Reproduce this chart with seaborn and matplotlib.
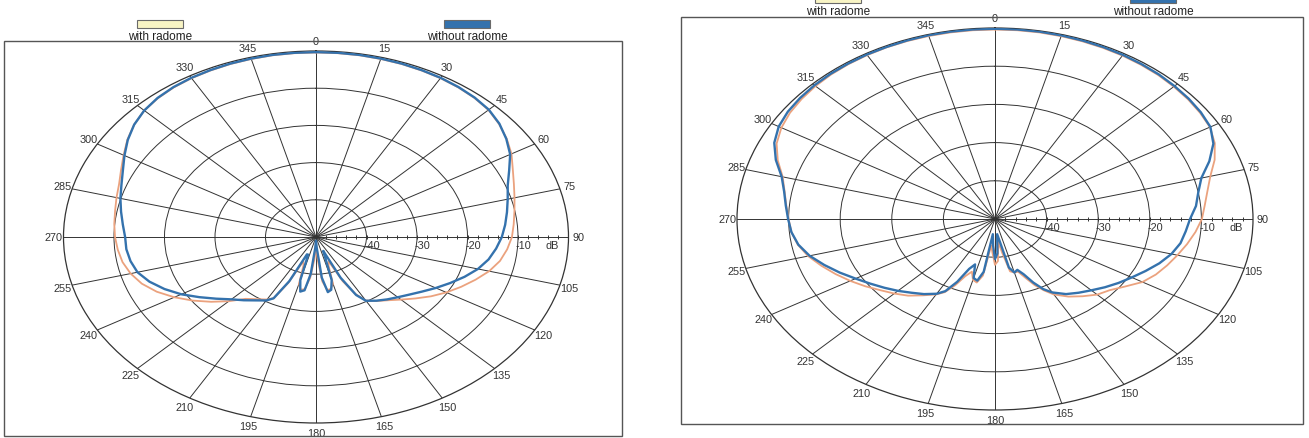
import numpy as np
import pandas as pd
import matplotlib
matplotlib.use("Agg")
import matplotlib.pyplot as plt
from matplotlib.patches import Rectangle
import seaborn as sns

# ---------------- data (angle in degrees, level in dB) ----------------
angles = list(range(0, 151, 5)) + list(range(153, 208, 3)) + list(range(210, 356, 5))

left_without = [-0.3, -0.3, -0.3, -0.35, -0.4, -0.5, -0.6, -0.8, -1.1, -1.6, -2.6, -4.0, -5.6, -7.8, -9.6,
                -10.7, -11.6, -12.4, -13.2, -14.2, -15.3, -16.8, -18.7, -20.7, -22.6, -24.4, -25.9, -27.1,
                -28.1, -29.1, -30.2,
                -32.5, -38, -46, -44, -38, -35.5, -35, -39, -47, -49, -47, -40, -35.5, -35, -38, -45, -45, -37, -31.5,
                -30.3, -29.2, -27.8, -26.3, -24.2, -21.8, -19.2, -16.9, -14.9, -13.4, -12.7, -12.3, -12.2, -11.6,
                -10.8, -9.9, -9.0, -7.8, -6.2, -4.5, -3.0, -1.9, -1.2, -0.8, -0.6, -0.5, -0.4, -0.35, -0.3, -0.3]

left_with = [-0.4, -0.4, -0.4, -0.45, -0.5, -0.6, -0.7, -0.9, -1.2, -1.7, -2.7, -3.9, -5.3, -7.0, -8.3,
             -9.3, -10.1, -10.7, -11.2, -12.0, -13.0, -14.5, -16.4, -18.3, -20.2, -22.2, -24.3, -26.2,
             -27.8, -29.0, -30.3,
             -32.8, -37, -43, -42, -37, -35.8, -35.5, -38, -44, -47, -44, -39, -35.8, -35.5, -37, -42, -43, -36.5, -31.5,
             -30.6, -29.6, -28.3, -25.6, -22.9, -20.2, -17.6, -15.2, -13.3, -12.0, -11.1, -10.6, -10.2, -9.9,
             -9.6, -9.1, -8.5, -7.4, -6.0, -4.4, -3.0, -1.9, -1.3, -0.9, -0.7, -0.6, -0.5, -0.45, -0.4, -0.4]

right_without = [-0.2, -0.2, -0.2, -0.25, -0.3, -0.35, -0.4, -0.5, -0.6, -0.8, -1.0, -1.3, -1.8, -3.3, -5.8,
                 -8.6, -10.0, -10.9, -12.2, -12.9, -13.5, -14.6, -16.1, -17.8, -19.4, -20.8, -22.2, -23.6,
                 -24.8, -26.0, -27.8,
                 -29.4, -31.8, -34.5, -36, -35.5, -37, -44, -46, -41, -39.5, -43, -46, -36, -33.5, -34, -37.5, -36, -32, -28.8,
                 -27.4, -26.0, -24.8, -23.4, -22.0, -20.5, -18.8, -16.8, -14.8, -12.8, -11.3, -10.4, -9.9, -9.3,
                 -8.5, -7.2, -4.8, -2.8, -1.6, -1.0, -0.7, -0.5, -0.4, -0.35, -0.3, -0.3, -0.25, -0.2, -0.2, -0.2]

right_with = [-0.4, -0.4, -0.4, -0.45, -0.5, -0.55, -0.6, -0.7, -0.8, -1.0, -1.2, -1.5, -1.9, -3.0, -4.7,
              -6.8, -8.2, -9.2, -9.9, -11.0, -12.2, -13.4, -14.5, -15.6, -17.0, -19.2, -21.0, -22.0,
              -23.6, -25.2, -27.2,
              -29.0, -31.0, -33.5, -35.5, -35.5, -36, -41, -44, -39, -38, -41, -43, -35, -33, -33.5, -35.5, -34, -31, -28.5,
              -27.2, -25.6, -23.8, -22.4, -21.0, -19.3, -17.6, -15.9, -14.2, -12.5, -11.2, -10.4, -10.0, -9.4,
              -8.6, -7.4, -5.2, -3.3, -2.2, -1.5, -1.1, -0.8, -0.6, -0.5, -0.45, -0.4, -0.4, -0.4, -0.4, -0.4]

theta_labels = [str(a) for a in range(0, 360, 15)]
ring_levels = [-40, -30, -20, -10]
legend_names = ["with radome", "without radome"]

C_WITH = "#eba27e"
C_WITHOUT = "#3472ad"
C_SWATCH_WITH = "#f8f4c4"
GRID = "#333333"

# ---------------- style ----------------
sns.set_theme(style="white")
plt.rcParams["font.family"] = ["Liberation Sans", "DejaVu Sans"]

W, H = 1309, 439
fig = plt.figure(figsize=(W / 100, H / 100), dpi=100)
fig.patch.set_facecolor("white")


def fx(px):
    return px / W


def fy(py):
    return 1 - py / H


def frame(x0, y0, x1, y1):
    fig.patches.append(Rectangle((fx(x0), fy(y1)), fx(x1) - fx(x0), fy(y0) - fy(y1),
                                 transform=fig.transFigure, fill=False, ec="#555555", lw=1.0))


def legend_item(cx, sy, ty, text, fc):
    w, h = 46, 8
    fig.patches.append(Rectangle((fx(cx - w / 2), fy(sy + h / 2)), fx(w), h / H,
                                 transform=fig.transFigure, fc=fc, ec="#6a6a6a", lw=0.8))
    fig.text(fx(cx), fy(ty), text, ha="center", va="center", fontsize=8.5, color="#222222")


def polar_panel(rect, with_vals, without_vals):
    ax = fig.add_axes(rect, projection="polar")
    ax.set_aspect("auto")
    ax.set_facecolor("white")
    ax.set_theta_zero_location("N")
    ax.set_theta_direction(-1)

    th = np.deg2rad(np.append(angles, 360))
    df_with = pd.DataFrame({"theta": th, "dB": np.append(with_vals, with_vals[0])})
    df_without = pd.DataFrame({"theta": th, "dB": np.append(without_vals, without_vals[0])})
    sns.lineplot(data=df_with, x="theta", y="dB", ax=ax, sort=False, color=C_WITH, lw=1.3, zorder=3)
    sns.lineplot(data=df_without, x="theta", y="dB", ax=ax, sort=False, color=C_WITHOUT, lw=1.7, zorder=4)
    ax.set_xlabel("")
    ax.set_ylabel("")

    ax.set_ylim(-50, 0)
    ax.set_rticks(ring_levels)
    ax.set_yticklabels([])
    ax.set_thetagrids(np.arange(0, 360, 15), labels=theta_labels)
    ax.set_xticks(np.deg2rad(np.arange(0, 360, 5)), minor=True)
    ax.tick_params(axis="x", which="major", length=0, pad=0, labelsize=7.8, labelcolor="#333333")
    ax.tick_params(axis="x", which="minor", direction="in", length=4, width=0.7, color=GRID)
    ax.grid(True, color=GRID, lw=0.7)
    ax.spines["polar"].set_color(GRID)
    ax.spines["polar"].set_linewidth(0.9)

    # small ticks along the 90 deg axis
    rt = np.arange(-48, 0, 2)
    ax.plot(np.full(rt.size, np.pi / 2), rt, ls="none", marker="|", ms=3.5, mew=0.7, color=GRID, zorder=2)
    for lv in ring_levels:
        ax.annotate(str(lv), xy=(np.pi / 2, lv), xytext=(4, -6), textcoords="offset points",
                    ha="center", va="center", fontsize=7.8, color="#333333")
    ax.annotate("dB", xy=(np.pi / 2, -3.3), xytext=(0, -6), textcoords="offset points",
                ha="center", va="center", fontsize=7.8, color="#333333")
    return ax


# left panel
frame(4, 42, 622, 437)
polar_panel([fx(63.5), fy(424), fx(505), 372 / H], left_with, left_without)
legend_item(160, 25, 37, legend_names[0], C_SWATCH_WITH)
legend_item(467, 25, 37, legend_names[1], C_WITHOUT)

# right panel
frame(681, 18, 1303, 425)
polar_panel([fx(737), fy(411), fx(516), 382 / H], right_with, right_without)
legend_item(838, 0, 12, legend_names[0], C_SWATCH_WITH)
legend_item(1153, 0, 12, legend_names[1], C_WITHOUT)

fig.savefig("out.png", dpi=100, facecolor="white")
